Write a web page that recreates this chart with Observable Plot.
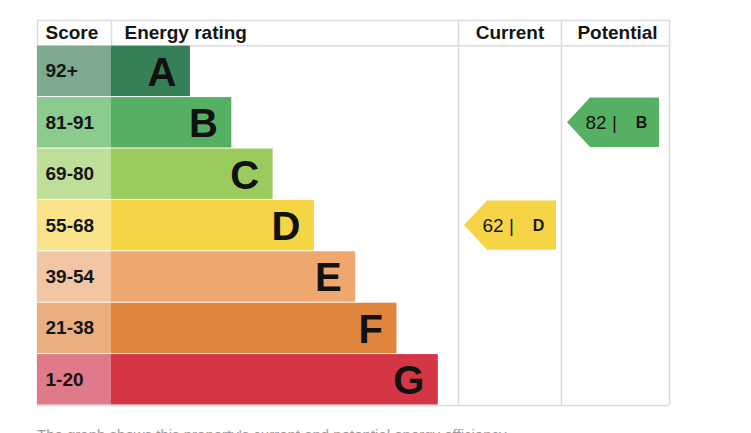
<!DOCTYPE html>
<html>
<head>
<meta charset="utf-8">
<script src="https://cdn.jsdelivr.net/npm/d3@7"></script>
<script src="https://cdn.jsdelivr.net/npm/@observablehq/plot@0.6"></script>
<style>
  html, body { margin: 0; padding: 0; background: #fff; }
  #chart svg { display: block; }
  .caption { margin: 8px 0 0 37px; font: 15px "Liberation Sans", Arial, sans-serif; color: #9a9a9a; white-space: nowrap; }
</style>
</head>
<body>
<div id="chart"></div>
<div class="caption">The graph shows this property's current and potential energy efficiency.</div>
<script>
// ---- data ----
const ratings = ["A", "B", "C", "D", "E", "F", "G"];
const scoreBands = ["92+", "81-91", "69-80", "55-68", "39-54", "21-38", "1-20"];
const headers = ["Score", "Energy rating", "Current", "Potential"];
const currentScore = 62;
const currentRating = "D";
const potentialScore = 82;
const potentialRating = "B";

// ---- styles ----
const barColors = ["#377f57", "#55b064", "#9bcb5d", "#f5d445", "#eea86f", "#e0853d", "#d43646"];
const bandColors = ["#7daa8c", "#8bcb8e", "#bddf98", "#fae48a", "#f3c6a3", "#eaaf7f", "#e07a8b"];
const gridColor = "#dcdcdc";
const font = "'Liberation Sans', Arial, Helvetica, sans-serif";

// ---- layout (in scale units) ----
const L = {
  scoreX0: 0, scoreX1: 74,
  barBase: 79, barStep: 41.3,
  curX0: 421, curX1: 524,
  potX0: 524, potX1: 632,
  headerTop: -0.49,
  arrowTipOffset: 6, arrowNeck: 23, arrowWidth: 92
};

const rows = ratings.map((r, i) => ({
  rating: r, band: scoreBands[i], i,
  len: L.barBase + L.barStep * i,
  bar: barColors[i], light: bandColors[i]
}));

function arrow(x0, rating) {
  const i = ratings.indexOf(rating);
  const tip = x0 + L.arrowTipOffset;
  const top = i + 0.02, bot = i + 0.98, mid = i + 0.5;
  return [
    {x: tip, y1: mid, y2: mid},
    {x: tip + L.arrowNeck, y1: top, y2: bot},
    {x: tip + L.arrowWidth, y1: top, y2: bot}
  ];
}
const arrowLabels = [
  {score: currentScore, rating: currentRating, pts: arrow(L.curX0, currentRating), color: barColors[ratings.indexOf(currentRating)]},
  {score: potentialScore, rating: potentialRating, pts: arrow(L.potX0, potentialRating), color: barColors[ratings.indexOf(potentialRating)]}
];

const headerLeft = [
  {t: headers[0], x: L.scoreX0 + 8},
  {t: headers[1], x: L.scoreX1 + 13}
];
const headerCentered = [
  {t: headers[2], x: (L.curX0 + L.curX1) / 2},
  {t: headers[3], x: (L.potX0 + L.potX1) / 2 + 2}
];

const chart = Plot.plot({
  width: 751,
  height: 418,
  margin: 0,
  style: {fontFamily: font, background: "#fff"},
  x: {type: "linear", domain: [0, 632], range: [37, 669], axis: null},
  y: {type: "linear", domain: [L.headerTop, 7], range: [20, 405], axis: null},
  marks: [
    // grid lines
    Plot.ruleY([L.headerTop, 0, 7], {x1: L.scoreX0, x2: L.potX1, stroke: gridColor, strokeWidth: 1.5}),
    Plot.ruleX([L.scoreX0, L.curX0, L.potX0, L.potX1], {y1: L.headerTop, y2: 7, stroke: gridColor, strokeWidth: 1.5}),
    Plot.ruleX([L.scoreX1], {y1: L.headerTop, y2: 0, stroke: gridColor, strokeWidth: 1.5}),
    // score band cells
    Plot.rect(rows, {x1: L.scoreX0, x2: L.scoreX1, y1: d => d.i, y2: d => d.i + 1, fill: d => d.light, insetTop: 0.5, insetBottom: 0.5}),
    // rating bars
    Plot.rect(rows, {x1: L.scoreX1, x2: d => L.scoreX1 + d.len, y1: d => d.i, y2: d => d.i + 1, fill: d => d.bar, insetTop: 0.5, insetBottom: 0.5}),
    // band labels
    Plot.text(rows, {x: L.scoreX0, y: d => d.i + 0.5, text: "band", textAnchor: "start", dx: 8, fontSize: 19, fontWeight: "bold", fill: "#151515"}),
    // rating letters
    Plot.text(rows, {x: d => L.scoreX1 + d.len, y: d => d.i + 0.53, text: "rating", textAnchor: "end", dx: -14, fontSize: 40, fontWeight: "bold", fill: "#111"}),
    // header
    Plot.text(headerLeft, {x: "x", y: L.headerTop / 2, text: "t", textAnchor: "start", fontSize: 19, fontWeight: "bold", fill: "#151515"}),
    Plot.text(headerCentered, {x: "x", y: L.headerTop / 2, text: "t", textAnchor: "middle", fontSize: 19, fontWeight: "bold", fill: "#151515"}),
    // arrows
    ...arrowLabels.map(a => Plot.areaY(a.pts, {x: "x", y1: "y1", y2: "y2", fill: a.color, curve: "linear"})),
    Plot.text(arrowLabels, {x: d => d.pts[0].x, y: d => d.pts[0].y1, text: d => `${d.score} |`, textAnchor: "start", dx: 18, fontSize: 19, fill: "#151515"}),
    Plot.text(arrowLabels, {x: d => d.pts[2].x, y: d => d.pts[0].y1, text: "rating", textAnchor: "middle", dx: -18, fontSize: 16, fontWeight: "bold", fill: "#151515"})
  ]
});
document.getElementById("chart").appendChild(chart);
</script>
</body>
</html>
